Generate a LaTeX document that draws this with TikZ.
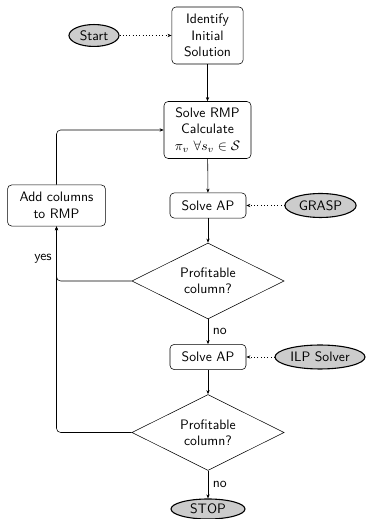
\documentclass[tikz,border=0pt]{standalone}
\usepackage{amsmath}
\usepackage{amssymb}
\usetikzlibrary{shapes.geometric, arrows.meta, positioning}
\renewcommand{\familydefault}{\sfdefault}

\begin{document}
\begin{tikzpicture}[x=0.73pt, y=0.73pt,
    font=\sffamily,
    proc/.style={draw, rounded corners=3pt, align=center, inner sep=1pt},
    term/.style={draw, thick, ellipse, fill=gray!40, inner sep=0pt},
    decision/.style={draw, diamond, aspect=2, align=center, inner sep=0pt,
        minimum width=111pt, minimum height=55.5pt},
    arr/.style={-{Stealth[length=3pt, width=2.4pt]}},
    dotarr/.style={dotted, -{Stealth[length=3pt, width=2.4pt]}}]
\useasboundingbox (0,0) rectangle (366,519);
% nodes
\node[term, minimum width=36.5pt, minimum height=16pt] (start) at (94,483.5) {Start};
\node[proc, minimum width=52pt, minimum height=41.6pt] (init) at (207.5,483.5) {Identify\\Initial\\Solution};
\node[proc, minimum width=63.5pt, minimum height=41.6pt] (rmp) at (207.5,389) {Solve RMP\\Calculate\\$\pi_v\ \forall s_v \in \mathcal{S}$};
\node[proc, minimum width=71.5pt, minimum height=30pt] (addcol) at (56.5,313.5) {Add columns\\to RMP};
\node[proc, minimum width=55.5pt, minimum height=18.3pt] (apone) at (208,313.5) {Solve AP};
\node[term, minimum width=52pt, minimum height=17.5pt] (grasp) at (320.5,313.5) {GRASP};
\node[decision] (profone) at (208,238) {Profitable\\column?};
\node[proc, minimum width=55.5pt, minimum height=18.3pt] (aptwo) at (208,162) {Solve AP};
\node[term, minimum width=65.7pt, minimum height=17.5pt] (ilp) at (320,162) {ILP Solver};
\node[decision] (proftwo) at (208,86.5) {Profitable\\column?};
\node[term, minimum width=54pt, minimum height=14.6pt] (stop) at (208,10) {STOP};
% main flow
\draw[arr] (init) -- (rmp);
\draw[arr] (rmp) -- (apone);
\draw[arr] (apone) -- (profone);
\draw[arr] (profone) -- node[right] {no} (aptwo);
\draw[arr] (aptwo) -- (proftwo);
\draw[arr] (proftwo) -- node[right] {no} (stop);
% heuristics
\draw[dotarr] (start) -- (init);
\draw[dotarr] (grasp) -- (apone);
\draw[dotarr] (ilp) -- (aptwo);
% loop back
\draw[arr, rounded corners=3pt] (profone.west) -| node[pos=0.7, left] {yes} (addcol.south);
\draw[arr, rounded corners=3pt] (proftwo.west) -| (addcol.south);
\draw[arr, rounded corners=3pt] (addcol.north) |- (rmp.west);
\end{tikzpicture}
\end{document}
